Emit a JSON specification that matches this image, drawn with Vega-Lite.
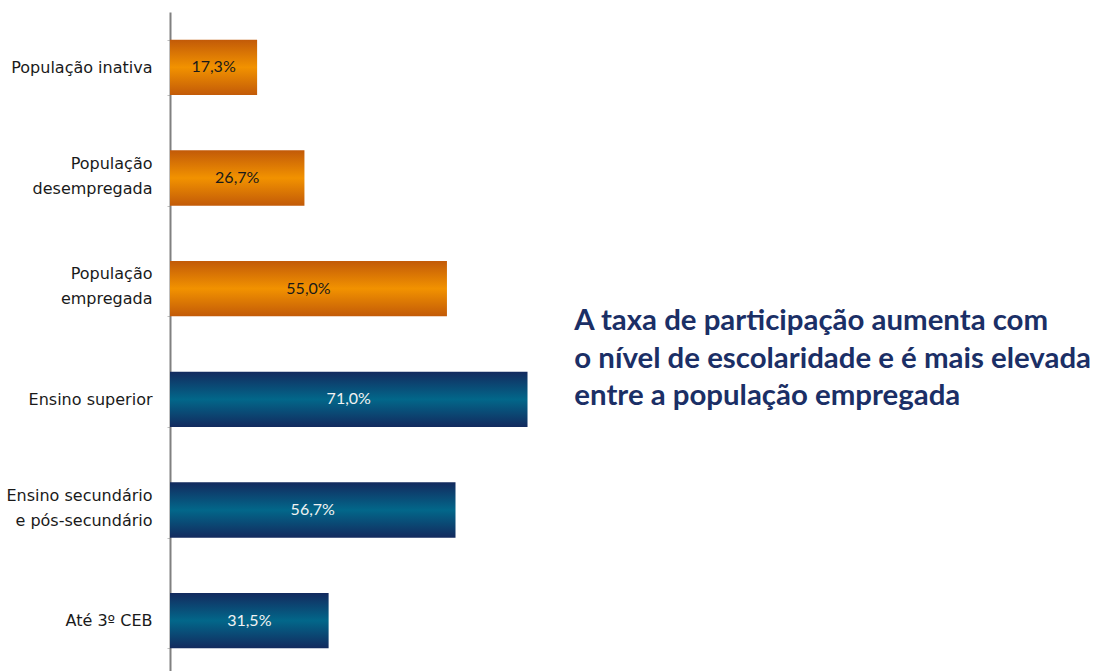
{
  "$schema": "https://vega.github.io/schema/vega-lite/v6.json",
  "width": 925,
  "height": 664,
  "autosize": {"type": "none"},
  "padding": {"left": 170, "top": 12, "right": 1, "bottom": 0},
  "background": "white",
  "config": {
    "view": {"stroke": null},
    "font": "DejaVu Sans",
    "locale": {"number": {"decimal": ",", "thousands": ".", "grouping": [3], "currency": ["", " €"]}}
  },
  "data": {
    "values": [
      {"categoria": "População inativa", "grupo": "populacao", "valor": 0.173},
      {"categoria": "População|desempregada", "grupo": "populacao", "valor": 0.267},
      {"categoria": "População|empregada", "grupo": "populacao", "valor": 0.55},
      {"categoria": "Ensino superior", "grupo": "escolaridade", "valor": 0.71},
      {"categoria": "Ensino secundário|e pós-secundário", "grupo": "escolaridade", "valor": 0.567},
      {"categoria": "Até 3º CEB", "grupo": "escolaridade", "valor": 0.315}
    ]
  },
  "encoding": {
    "y": {
      "field": "categoria",
      "type": "nominal",
      "sort": null,
      "scale": {"paddingInner": 0.5, "paddingOuter": 0.25},
      "axis": {
        "title": null,
        "labelExpr": "isValid(datum.value) ? split(datum.value, '|') : ''",
        "labelFont": "DejaVu Sans",
        "labelFontSize": 16,
        "labelColor": "#1a1a1a",
        "labelLineHeight": 25,
        "labelPadding": 15,
        "labelOffset": {"condition": {"test": "isValid(datum.value) && indexof(datum.value, '|') >= 0", "value": -15}, "value": 0},
        "tickBand": "extent",
        "tickSize": 3,
        "tickColor": "#bfbfbf",
        "domainColor": "#808080",
        "domainWidth": 2,
        "labelLimit": 300
      }
    }
  },
  "layer": [
    {
      "transform": [{"filter": "datum.grupo === 'populacao'"}],
      "mark": {
        "type": "bar",
        "color": {
          "gradient": "linear",
          "x1": 0, "y1": 0, "x2": 0, "y2": 1,
          "stops": [
            {"offset": 0, "color": "#C25A08"},
            {"offset": 0.5, "color": "#F29200"},
            {"offset": 1, "color": "#C25A08"}
          ]
        }
      },
      "encoding": {
        "x": {"field": "valor", "type": "quantitative", "scale": {"domain": [0, 1.837]}, "axis": null}
      }
    },
    {
      "transform": [{"filter": "datum.grupo === 'escolaridade'"}],
      "mark": {
        "type": "bar",
        "color": {
          "gradient": "linear",
          "x1": 0, "y1": 0, "x2": 0, "y2": 1,
          "stops": [
            {"offset": 0, "color": "#132A5E"},
            {"offset": 0.5, "color": "#02678A"},
            {"offset": 1, "color": "#132A5E"}
          ]
        }
      },
      "encoding": {
        "x": {"field": "valor", "type": "quantitative", "scale": {"domain": [0, 1.837]}, "axis": null}
      }
    },
    {
      "transform": [{"calculate": "datum.valor / 2", "as": "meio"}],
      "mark": {"type": "text", "font": "Lato", "fontSize": 16, "align": "center", "baseline": "middle"},
      "encoding": {
        "x": {"field": "meio", "type": "quantitative", "scale": {"domain": [0, 1.837]}, "axis": null},
        "text": {"field": "valor", "type": "quantitative", "format": ".1%"},
        "color": {
          "field": "grupo",
          "type": "nominal",
          "scale": {"domain": ["populacao", "escolaridade"], "range": ["#1a1a1a", "#f2f2f2"]},
          "legend": null
        }
      }
    },
    {
      "data": {"values": [{"categoria": "Ensino superior", "x": 0.803, "texto": ["A taxa de participação aumenta com", "o nível de escolaridade e é mais elevada", "entre a população empregada"]}]},
      "mark": {"type": "text", "font": "Lato", "fontSize": 29.4, "fontWeight": "bold", "align": "left", "baseline": "alphabetic", "lineHeight": 37.5, "dy": -69, "color": "#1B2F66"},
      "encoding": {
        "x": {"field": "x", "type": "quantitative", "scale": {"domain": [0, 1.837]}, "axis": null},
        "text": {"field": "texto"}
      }
    }
  ]
}
